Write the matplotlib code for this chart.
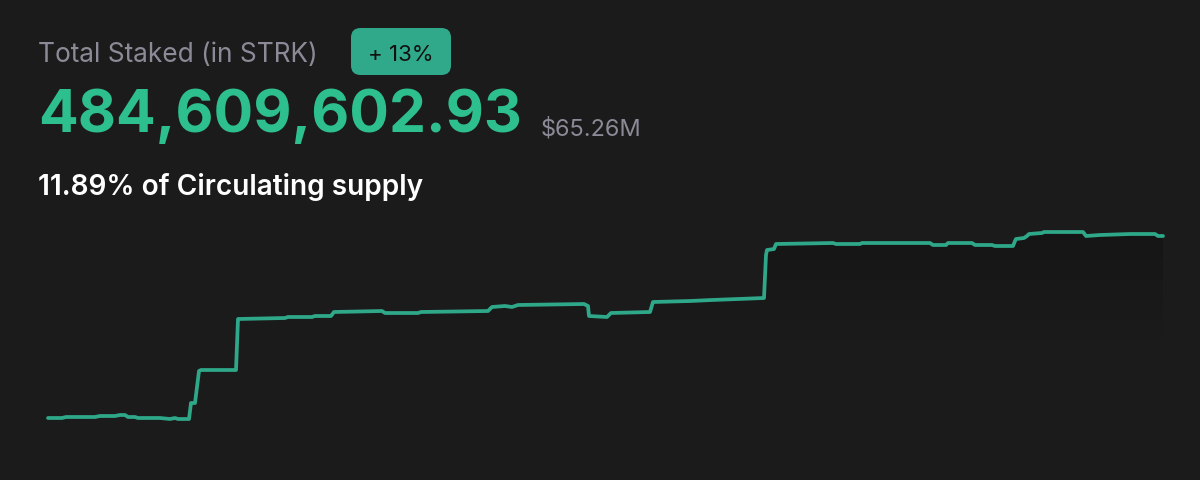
import matplotlib
matplotlib.use("Agg")
import matplotlib.pyplot as plt
import numpy as np
from matplotlib.patches import FancyBboxPatch, Polygon
from matplotlib.colors import LinearSegmentedColormap

# ---- data ----
title = "Total Staked (in STRK)"
change_label = "+ 13%"
total_staked = "484,609,602.93"
usd_value = "$65.26M"
supply_label = "11.89% of Circulating supply"

days = [0, 14, 18, 47, 52, 67, 72, 77, 80, 87, 90, 112, 122, 127, 130, 141, 143, 147,
        151, 153, 188, 190, 237, 240, 264, 267, 283, 286, 334, 337, 370, 373, 440, 444,
        457, 464, 470, 536, 540, 541, 559, 563, 602, 605, 642, 664, 716, 718, 719, 726,
        728, 785, 788, 812, 814, 882, 885, 898, 900, 924, 927, 944, 947, 965, 967, 968,
        976, 979, 981, 994, 996, 1035, 1038, 1052, 1082, 1107, 1110, 1115]
staked_m = [211.6, 211.6, 213.1, 213.1, 214.6, 214.6, 216.1, 216.1, 213.1, 213.1, 211.6,
            211.6, 210.1, 211.6, 210.1, 210.1, 234.1, 234.1, 282.1, 283.6, 283.6, 360.1,
            361.6, 363.1, 363.1, 364.6, 364.6, 370.6, 372.1, 369.1, 369.1, 370.6, 372.1,
            378.1, 379.6, 378.1, 381.1, 382.6, 379.6, 364.6, 363.1, 369.1, 370.6, 385.6,
            387.1, 388.6, 391.6, 456.1, 463.6, 465.1, 472.6, 474.1, 472.6, 472.6, 474.1,
            474.1, 471.1, 471.1, 474.1, 474.1, 471.1, 471.1, 469.6, 469.6, 477.1, 480.1,
            481.6, 484.6, 487.6, 489.1, 490.6, 490.6, 484.6, 486.1, 487.6, 487.6, 484.6,
            484.6]

BG = "#1b1b1b"
LINE = "#2fa889"
BIG = "#2dbf8e"
GREY = "#8b8a97"

W, H = 1200, 480
fig = plt.figure(figsize=(W / 100, H / 100), dpi=100, facecolor=BG)
ax = fig.add_axes([0, 0, 1, 1])
ax.set_facecolor(BG)
ax.set_xlim(-48, 1152)
ax.set_ylim(118.6, 838.6)
ax.axis("off")

x = np.array(days, dtype=float)
y = np.array(staked_m, dtype=float)

# subtle gradient fill below line
verts = [(x[0], 118.6)] + list(zip(x, y)) + [(x[-1], 118.6)]
poly = Polygon(verts, closed=True, facecolor="none", edgecolor="none")
ax.add_patch(poly)
grad = np.linspace(0, 1, 256).reshape(-1, 1)
cmap = LinearSegmentedColormap.from_list("g", [(0.0, (0.07, 0.07, 0.07, 0.0)), (1.0, (0.07, 0.07, 0.07, 0.55))])
im = ax.imshow(grad, extent=[x[0], x[-1], 330, 491], origin="lower", cmap=cmap,
               aspect="auto", interpolation="bilinear", zorder=1)
im.set_clip_path(poly)

ax.plot(x, y, color=LINE, lw=2.7, solid_joinstyle="round", solid_capstyle="round", zorder=3)

# ---- text ----
renderer = fig.canvas.get_renderer()

def fit_text(px, py_base, s, target_w, size, ha="left", va="baseline", **kw):
    t = fig.text(px / W, 1 - py_base / H, s, fontsize=size, va=va, ha=ha, **kw)
    bb = t.get_window_extent(renderer=renderer)
    t.set_fontsize(size * target_w / bb.width)
    return t

fam = ["Inter", "DejaVu Sans"]
fit_text(38, 62, title, 280, 18.7, color=GREY, family=fam)
fit_text(38, 132, total_staked, 484, 39, color=BIG, family=fam, fontweight="bold")
fit_text(541, 136, usd_value, 101, 16.5, color=GREY, family=fam)
fit_text(38, 195, supply_label, 385, 20.5, color="white", family=fam, fontweight="semibold")

badge = FancyBboxPatch((351 / W, 1 - 75 / H), 100 / W, 47 / H,
                       boxstyle="round,pad=0,rounding_size=0.008",
                       transform=fig.transFigure, facecolor="#30a98a", edgecolor="none",
                       mutation_aspect=W / H)
fig.patches.append(badge)
fit_text(401, 61, change_label, 66, 15, ha="center", color="#111111", family=fam)

fig.savefig("out.png", dpi=100, facecolor=BG)
